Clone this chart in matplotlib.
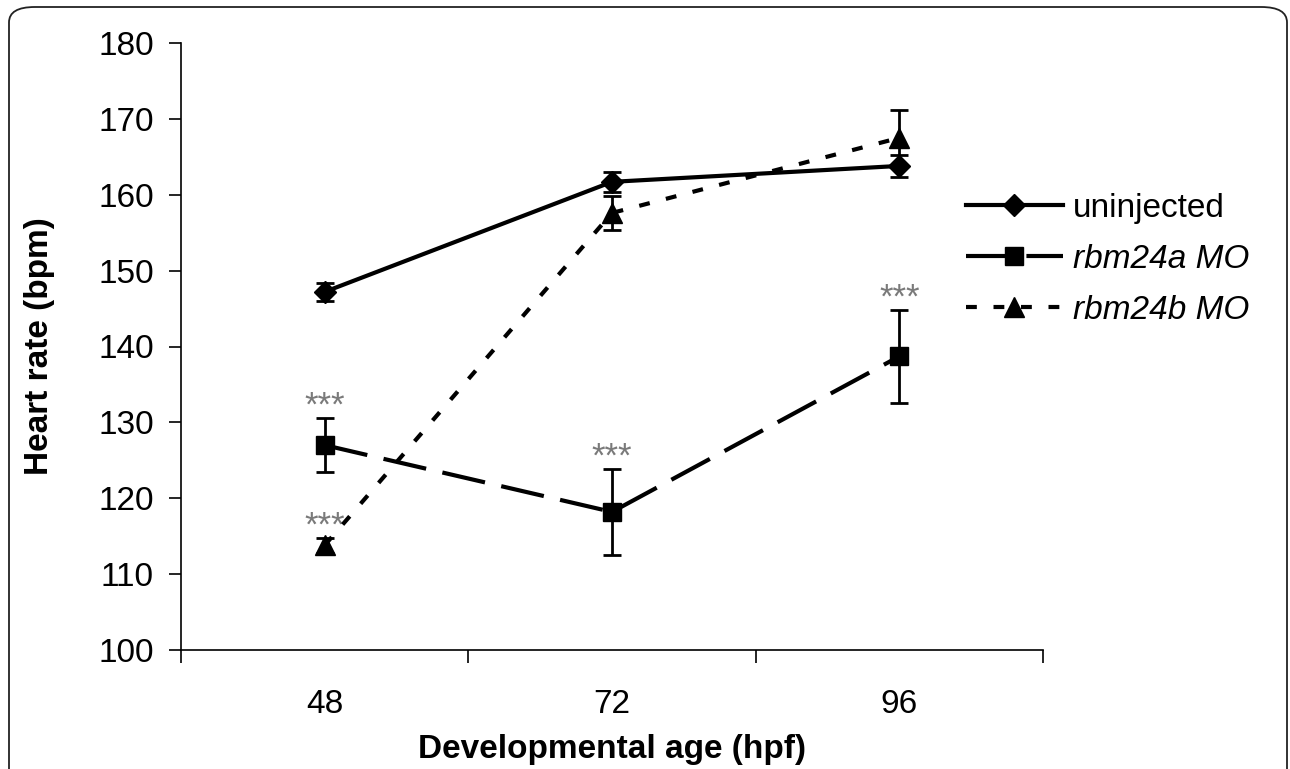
import matplotlib
matplotlib.use("Agg")
import matplotlib.pyplot as plt
from matplotlib.patches import FancyBboxPatch
from matplotlib.lines import Line2D

plt.rcParams['font.family'] = ['Liberation Sans', 'DejaVu Sans']

categories = ["48", "72", "96"]
uninjected = [147.2, 161.7, 163.8]
uninjected_err = [1.2, 1.3, 1.4]
rbm24a = [127.0, 118.2, 138.7]
rbm24a_err = [3.6, 5.7, 6.1]
rbm24b = [113.8, 157.6, 167.5]
rbm24b_err = [1.0, 2.2, 3.7]
stars = [("rbm24a", 0), ("rbm24b", 0), ("rbm24a", 1), ("rbm24a", 2)]
series_labels = ["uninjected", "rbm24a MO", "rbm24b MO"]

W, H = 1290, 769
fig = plt.figure(figsize=(W / 100, H / 100), dpi=100)
ax = fig.add_axes([181 / W, 1 - 650 / H, (1043 - 181) / W, (650 - 43) / H])

# rounded frame around the figure
frame = FancyBboxPatch((9 / W, -0.05), 1278 / W, 1 - 7 / H + 0.05,
                       boxstyle="round,pad=0,rounding_size=0.02",
                       transform=fig.transFigure, fill=False,
                       edgecolor="#222222", linewidth=1.3, zorder=0)
fig.patches.append(frame)

x = list(range(len(categories)))
lw = 3
styles = [
    dict(marker="D", markersize=11, dashes=None),
    dict(marker="s", markersize=13, dashes=(10.5, 4)),
    dict(marker="^", markersize=15, dashes=(2.6, 4)),
]
series = [(uninjected, uninjected_err), (rbm24a, rbm24a_err), (rbm24b, rbm24b_err)]
handles = []
for (vals, errs), st, lab in zip(series, styles, series_labels):
    kw = {}
    if st["dashes"] is not None:
        kw["dashes"] = st["dashes"]
    ax.errorbar(x, vals, yerr=errs, color="black", lw=lw, marker=st["marker"],
                markersize=st["markersize"], capsize=6.5, elinewidth=2,
                capthick=2, zorder=3, **kw)
    handles.append(Line2D([], [], color="black", lw=lw, marker=st["marker"],
                          markersize=st["markersize"], **kw))

data = {"rbm24a": (rbm24a, rbm24a_err), "rbm24b": (rbm24b, rbm24b_err)}
for name, i in stars:
    vals, errs = data[name]
    ax.annotate("***", (i, vals[i] + errs[i]), xytext=(0, 1.5),
                textcoords="offset points", ha="center", va="baseline",
                fontsize=25, color="#7a7a7a")

ax.set_xlim(-0.5, 2.5)
ax.set_ylim(100, 180)
ax.set_yticks(range(100, 181, 10))
ax.set_xticks(x)
ax.set_xticklabels(categories)
ax.set_xticks([-0.5, 0.5, 1.5, 2.5], minor=True)
ax.tick_params(axis="x", which="major", length=0, pad=28, labelsize=24)
ax.tick_params(axis="x", which="minor", length=9, width=1.2, direction="out")
ax.tick_params(axis="y", length=8.5, width=1.2, direction="out", labelsize=24, pad=11)
for s in ["top", "right"]:
    ax.spines[s].set_visible(False)
for s in ["left", "bottom"]:
    ax.spines[s].set_linewidth(1.2)

ax.set_xlabel("Developmental age (hpf)", fontsize=24, fontweight="bold")
ax.set_ylabel("Heart rate (bpm)", fontsize=24, fontweight="bold")
ax.xaxis.set_label_coords(0.5, -0.138)
ax.yaxis.set_label_coords(-0.146, 0.5)

leg = fig.legend(handles, series_labels, loc="upper left",
                 bbox_to_anchor=(966 / W, 1 - 193 / H), frameon=False,
                 fontsize=24, handlelength=2.9, labelspacing=0.6,
                 handletextpad=0.3, borderpad=0, borderaxespad=0)
for t in leg.get_texts()[1:]:
    t.set_fontstyle("italic")

fig.savefig("out.png", dpi=100)
